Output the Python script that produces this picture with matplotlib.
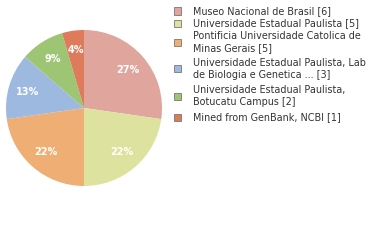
import matplotlib
matplotlib.use("Agg")
import matplotlib.pyplot as plt
from matplotlib.patches import Rectangle

labels = [
    "Museo Nacional de Brasil [6]",
    "Universidade Estadual Paulista [5]",
    "Pontificia Universidade Catolica de\nMinas Gerais [5]",
    "Universidade Estadual Paulista, Lab\nde Biologia e Genetica ... [3]",
    "Universidade Estadual Paulista,\nBotucatu Campus [2]",
    "Mined from GenBank, NCBI [1]",
]
counts = [6, 5, 5, 3, 2, 1]
colors = ["#e0a59c", "#dde29f", "#efae73", "#9eb9df", "#9ec574", "#de7b5b"]

W, H = 380, 240
fig = plt.figure(figsize=(W / 100, H / 100), dpi=100)

# pie: center (84,108) px, radius 78
r = 78
ax = fig.add_axes([(84 - r) / W, (H - 108 - r) / H, 2 * r / W, 2 * r / H])
total = sum(counts)
wedges, texts, autotexts = ax.pie(
    counts, colors=colors, startangle=90, counterclock=False,
    autopct=lambda p: "%d%%" % int(p / 100 * total * 100 / total + 1e-9),
    pctdistance=0.75, wedgeprops=dict(linewidth=0),
    textprops=dict(color="white", fontsize=7, fontweight="semibold"),
)
ax.set_aspect("equal")
ax.set_xlim(-1, 1)
ax.set_ylim(-1, 1)

# legend drawn by hand
y = 11
for lab, col in zip(labels, colors):
    n = lab.count("\n") + 1
    mid = y + (n - 1) * 6
    fig.patches.append(Rectangle((173.5 / W, 1 - (mid + 3.5) / H), 7 / W, 7 / H,
                                 transform=fig.transFigure, facecolor=col,
                                 edgecolor="#777777", linewidth=0.6))
    fig.text(193 / W, 1 - mid / H, lab, fontsize=6.9, color="#333333",
             va="center", ha="left", linespacing=1.2)
    y += 12 * n + (3 if n > 1 else 0.5)

fig.savefig("out.png", dpi=100)
